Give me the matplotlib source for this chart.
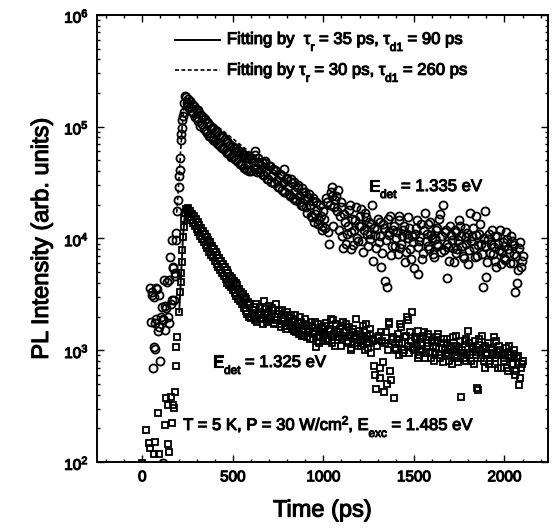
import matplotlib
matplotlib.use("Agg")
import matplotlib.pyplot as plt
import matplotlib.patheffects as pe
import matplotlib.transforms as mtrans
from matplotlib.ticker import MultipleLocator, LogLocator

plt.rcParams['font.family'] = ['Liberation Sans', 'DejaVu Sans']
plt.rcParams['mathtext.fontset'] = 'custom'
plt.rcParams['mathtext.rm'] = 'Liberation Sans'
plt.rcParams['mathtext.it'] = 'Liberation Sans:italic'
plt.rcParams['mathtext.bf'] = 'Liberation Sans:bold'
plt.rcParams['mathtext.default'] = 'regular'
plt.rcParams['lines.scale_dashes'] = False

# ---- E_det = 1.335 eV (open circles) ----
t_hi = [44, 50, 53, 56, 59, 62, 66, 69, 72, 75, 78, 81, 84, 90, 95, 99, 104, 108, 113, 115,
        117, 120, 125, 128, 132, 136, 140, 145, 150, 154, 158, 162, 164, 168, 172, 175, 178, 182, 184, 187,
        191, 195, 200, 204, 206, 209, 213, 216, 219, 222, 225, 228, 232, 236,
        240, 245, 250, 255, 260, 265, 270, 275, 280, 285, 290, 295, 300, 305, 310, 315, 320, 325, 330, 335,
        340, 345, 350, 355, 360, 365, 370, 375, 380, 385, 390, 395, 400, 405, 410, 415, 420, 425, 430, 435,
        440, 445, 450, 455, 460, 465, 470, 475, 480, 485, 490, 495, 500, 505, 510, 515, 520, 525, 530, 535,
        540, 545, 550, 555, 560, 565, 570, 575, 580, 585, 590, 595, 600,
        610, 620, 630, 640, 650, 660, 670, 680, 690, 700, 710, 720, 730, 740, 750, 760, 770, 780, 790, 800,
        810, 820, 830, 840, 850, 860, 870, 880, 890, 900, 910, 920, 930, 940, 950, 960, 970, 980, 990, 1000,
        1010, 1020, 1030, 1040, 1050, 1060, 1070, 1080, 1090, 1100, 1110, 1120, 1130, 1140, 1150, 1160,
        1170, 1180, 1190, 1200, 1210, 1220, 1230, 1240, 1250, 1260, 1270, 1280, 1290, 1300, 1310, 1320,
        1330, 1340, 1350, 1360, 1370, 1380, 1390, 1400, 1410, 1420, 1430, 1440, 1450, 1460, 1470, 1480,
        1490, 1500, 1510, 1520, 1530, 1540, 1550, 1560, 1570, 1580, 1590, 1600, 1610, 1620, 1630, 1640,
        1650, 1660, 1670, 1680, 1690, 1700, 1710, 1720, 1730, 1740, 1750, 1760, 1770, 1780, 1790, 1800,
        1810, 1820, 1830, 1840, 1850, 1860, 1870, 1880, 1890, 1900, 1910, 1920, 1930, 1940, 1950, 1960,
        1970, 1980, 1990, 2000, 2010, 2020, 2030, 2040, 2050, 2060, 2070, 2080, 2090, 2100]
pl_hi = [3580, 1800, 3300, 3100, 690, 1070, 3000, 1750, 1020, 3600, 1900, 3510, 1470, 3120, 1600, 800, 2000, 2450, 1900, 97,
         1870, 4270, 1510, 2500, 2370, 4100, 2000, 1750, 4270, 6880, 2600, 2820, 9700, 5600, 5400, 2800, 4900, 4570, 11100, 9600,
         17700, 22000, 29000, 36000, 41000, 52000, 76000, 86000, 97000, 115000, 125000, 136000, 162000, 188000,
         185000, 164000, 178000, 152000, 148000, 170000, 138000, 160000, 132000, 154000, 122000, 145000, 120000, 141000, 112000, 133000, 101000, 128000, 106000, 121000,
         96000, 116000, 91000, 111000, 88000, 107000, 82000, 101000, 80000, 98000, 76000, 95000, 74000, 92000, 72000, 89000, 70000, 85000, 67000, 82000,
         65000, 80000, 63000, 77000, 60000, 74000, 58000, 72000, 57000, 69000, 54000, 67000, 53000, 65000, 51000, 64000, 50000, 61000, 48000, 60000,
         46000, 59000, 45000, 57000, 43000, 56000, 42000, 54000, 41000, 52000, 40000, 51000, 40000,
         48000, 61000, 42000, 52000, 39000, 48000, 37000, 47000, 34000, 44000, 32000, 42000, 31000, 40000, 29000, 38000, 27000, 42000, 26000, 35000,
         25000, 34000, 23000, 32000, 22000, 30000, 21000, 28000, 19500, 26000, 17000, 25000, 16000, 23000, 14000, 21000, 13500, 20000, 13000, 17500,
         12500, 21000, 9000, 26000, 29000, 19000, 24000, 27000, 16000, 21000, 8200, 14000, 11000, 18000, 8000, 15000,
         12000, 19000, 9500, 16000, 13000, 7600, 17000, 11000, 14000, 9800, 20000, 12500, 8200, 15000, 10500, 5600,
         13500, 4200, 3700, 11500, 16000, 8500, 13000, 10000, 7200, 14500, 9000, 12000, 6100, 11000, 15500, 8000,
         10500, 5400, 12500, 4800, 9500, 13500, 7400, 17000, 11000, 8600, 14000, 10000, 6800, 12000, 9000, 15000,
         7500, 20000, 11500, 4400, 8400, 13000, 9600, 6200, 11500, 8000, 14500, 10500, 7000, 12500, 9000, 5900,
         17000, 10500, 8200, 16000, 7000, 11000, 9000, 3700, 17500, 4500, 9800, 7400, 12000, 8400, 6300, 10500,
         7800, 5900, 9300, 6700, 11500, 8000, 6000, 9500, 7200, 3300, 4000, 8200, 5500, 7000]
# in-between samples (t = 605, 615, ... 2095)
t_hi_mid = [605, 615, 625, 635, 645, 655, 665, 675, 685, 695, 705, 715, 725, 735, 745, 755, 765, 775, 785, 795,
            805, 815, 825, 835, 845, 855, 865, 875, 885, 895, 905, 915, 925, 935, 945, 955, 965, 975, 985, 995,
            1005, 1015, 1025, 1035, 1045, 1055, 1065, 1075, 1085, 1095, 1105, 1115, 1125, 1135, 1145, 1155,
            1165, 1175, 1185, 1195, 1205, 1215, 1225, 1235, 1245, 1255, 1265, 1275, 1285, 1295, 1305, 1315,
            1325, 1335, 1345, 1355, 1365, 1375, 1385, 1395, 1405, 1415, 1425, 1435, 1445, 1455, 1465, 1475,
            1485, 1495, 1505, 1515, 1525, 1535, 1545, 1555, 1565, 1575, 1585, 1595, 1605, 1615, 1625, 1635,
            1645, 1655, 1665, 1675, 1685, 1695, 1705, 1715, 1725, 1735, 1745, 1755, 1765, 1775, 1785, 1795,
            1805, 1815, 1825, 1835, 1845, 1855, 1865, 1875, 1885, 1895, 1905, 1915, 1925, 1935, 1945, 1955,
            1965, 1975, 1985, 1995, 2005, 2015, 2025, 2035, 2045, 2055, 2065, 2075, 2085, 2095]
pl_hi_mid = [52000, 43000, 56000, 39000, 47000, 42000, 37000, 49000, 40000, 34000,
             44000, 36000, 31000, 41000, 33000, 29000, 37000, 31000, 26000, 34000,
             29000, 24000, 31000, 26000, 22000, 29000, 24000, 20000, 26000, 22500,
             19000, 23500, 20000, 15500, 21500, 16500, 18000, 14500, 16000, 12000,
             15000, 23000, 11500, 20000, 24000, 13000, 22000, 17500, 12000, 19000,
             10500, 16500, 9000, 13000, 20000, 11500, 8800, 14500, 10000, 12800,
             18500, 9500, 12000, 15500, 8600, 11000, 13500, 6300, 10800, 12200,
             9200, 14000, 7400, 12500, 9600, 15000, 10800, 7100, 12000, 8600,
             11500, 16000, 8200, 10500, 13000, 7600, 10000, 12500, 6600, 9200,
             11000, 14500, 8400, 10200, 6500, 12000, 9400, 13500, 8000, 10800,
             7200, 9800, 12500, 8600, 16500, 10500, 7800, 12000, 9000, 6300,
             10800, 8200, 11800, 7400, 9600, 13000, 8600, 6700, 10200, 11200,
             7900, 9500, 12500, 6800, 10800, 8800, 13500, 7200, 10000, 8500,
             6100, 11000, 9000, 7200, 10500, 5600, 9000, 12000, 7600, 8600,
             6400, 9800, 7400, 10500, 6000, 8800, 7000, 5200, 9200, 6300]

# ---- E_det = 1.325 eV (open squares) ----
t_lo = [0, 22, 35, 40, 62, 72, 86, 90, 127, 132, 140, 143, 149, 158, 164, 169, 176, 182, 185, 187,
        191, 204, 209, 211, 214, 219, 221, 224, 228, 232, 236, 242,
        245, 250, 255, 260, 265, 270, 275, 280, 285, 290, 295, 300, 305, 310, 315, 320, 325, 330, 335,
        340, 345, 350, 355, 360, 365, 370, 375, 380, 385, 390, 395, 400, 405, 410, 415, 420, 425, 430, 435,
        440, 445, 450, 455, 460, 465, 470, 475, 480, 485, 490, 495, 500, 505, 510, 515, 520, 525, 530, 535,
        540, 545, 550, 555, 560, 565, 570, 575, 580, 585, 590, 595, 600,
        610, 620, 630, 640, 650, 660, 670, 680, 690, 700, 710, 720, 730, 740, 750, 760, 770, 780, 790, 800,
        810, 820, 830, 840, 850, 860, 870, 880, 890, 900, 910, 920, 930, 940, 950, 960, 970, 980, 990, 1000,
        1010, 1020, 1030, 1040, 1050, 1060, 1070, 1080, 1090, 1100, 1110, 1120, 1130, 1140, 1150, 1160,
        1170, 1180, 1190, 1200, 1210, 1220, 1230, 1240, 1250, 1260, 1270, 1280, 1290, 1300, 1310, 1320,
        1330, 1340, 1350, 1360, 1370, 1380, 1390, 1400, 1410, 1420, 1430, 1440, 1450, 1460, 1470, 1480,
        1490, 1500, 1510, 1520, 1530, 1540, 1550, 1560, 1570, 1580, 1590, 1600, 1610, 1620, 1630, 1640,
        1650, 1660, 1670, 1680, 1690, 1700, 1710, 1720, 1730, 1740, 1750, 1760, 1770, 1780, 1790, 1800,
        1810, 1820, 1830, 1840, 1850, 1860, 1870, 1880, 1890, 1900, 1910, 1920, 1930, 1940, 1950, 1960,
        1970, 1980, 1990, 2000, 2010, 2020, 2030, 2040, 2050, 2060, 2070, 2080, 2090, 2100]
pl_lo = [98, 193, 149, 133, 118, 152, 273, 118, 214, 370, 145, 323, 123, 384, 222, 323, 307, 427, 725, 1060,
         1320, 2200, 3320, 4080, 4930, 6160, 7900, 10400, 12600, 15000, 16800, 18300,
         18000, 16500, 18800, 15500, 17600, 14600, 16600, 13800, 15800, 12900, 14900, 12100, 14000, 11400, 13300, 10600, 12400, 9900, 11700,
         9300, 11000, 8700, 10300, 8200, 9700, 7600, 9200, 7100, 8600, 6800, 8000, 6300, 7500, 5900, 7100, 5600, 6700, 5200, 6300,
         4900, 5900, 4600, 5500, 4300, 5200, 4000, 4900, 3850, 4600, 3650, 4400, 3450, 4200, 3250, 4000, 3050, 3800, 2900, 3550,
         2750, 3350, 2600, 3150, 2400, 3000, 2250, 2850, 2100, 2700, 2000, 2600, 1950,
         2300, 1850, 2600, 2050, 2400, 1900, 2750, 2150, 1800, 2500, 2000, 2300, 1750, 2600, 2100, 1700, 2300, 1950, 1650, 2200,
         1800, 2050, 1550, 1900, 1450, 1750, 2000, 1350, 1650, 1900, 1300, 1550, 1800, 1250, 1500, 1070, 1700, 1350, 1550, 1200,
         1650, 1250, 1500, 1900, 1150, 1400, 1700, 1300, 1550, 1100, 1800, 1350, 1200, 1600, 1050, 1450,
         1250, 1900, 1100, 1400, 1200, 1650, 1000, 1350, 1150, 1550, 1250, 720, 450, 1300, 560, 1450,
         780, 1150, 500, 1700, 650, 1250, 370, 1000, 1400, 1150, 1600, 950, 1300, 2000, 1100, 1450,
         2200, 1000, 1250, 1500, 900, 1150, 1350, 850, 1100, 1400, 950, 1200, 800, 1050, 1300, 900,
         1150, 780, 1000, 1250, 880, 1100, 750, 1000, 1350, 850, 1050, 380, 950, 1200, 800, 1500,
         900, 1100, 750, 1000, 460, 1250, 850, 1050, 700, 950, 1150, 800, 1000, 1300, 750, 900,
         1100, 700, 950, 850, 1050, 650, 900, 750, 1000, 600, 850, 490, 700, 800]
t_lo_mid = t_hi_mid
pl_lo_mid = [2150, 1950, 2450, 1800, 2200, 2050, 1700, 2350, 1950, 2150,
             1850, 2400, 1700, 2000, 1850, 2250, 1600, 1900, 2050, 1550,
             1950, 1650, 1800, 1500, 2050, 1600, 1400, 1800, 1550, 1350,
             1700, 1450, 1250, 1650, 1400, 1800, 1300, 1150, 1450, 1600,
             1400, 1750, 1200, 1550, 1350, 1850, 1100, 1450, 1300, 1650,
             1250, 1450, 1700, 1150, 1350, 1000, 1550, 1300, 1150, 1500,
             1100, 1350, 1250, 1700, 1050, 1400, 950, 1200, 600, 1100,
             1350, 700, 1200, 420, 1450, 1000, 1800, 540, 1300, 1050,
             1250, 900, 1700, 1150, 1000, 1350, 1850, 950, 1200, 1050,
             1300, 1100, 850, 1250, 1000, 1450, 950, 1150, 1300, 850,
             1100, 950, 1200, 1400, 850, 1050, 1250, 950, 1150, 800,
             1050, 1300, 900, 1100, 780, 1200, 1000, 850, 1250, 950,
             1150, 800, 1050, 1200, 900, 440, 1000, 1350, 800, 1100,
             900, 750, 1050, 950, 850, 1200, 700, 1000, 900, 800,
             950, 700, 1100, 850, 750, 920, 650, 880, 560, 750]

# ---- fitted curves ----
fit_solid_t = [204, 215, 225, 235, 242, 260, 300, 350, 400, 450, 500, 550, 600, 650, 700, 800, 900,
               1000, 1200, 1400, 1600, 1800, 2000, 2100]
fit_solid_I = [2200, 5000, 10500, 16500, 18500, 16500, 12500, 9000, 6600, 4800, 3600, 2700, 2250, 2050,
               1900, 1700, 1550, 1420, 1250, 1120, 1000, 920, 840, 800]
fit_dash_t = [190, 200, 210, 220, 230, 240, 260, 300, 400, 500, 600, 700, 800, 900, 1000, 1100, 1200,
              1400, 1600, 1800, 2000, 2100]
fit_dash_I = [17000, 29000, 55000, 100000, 150000, 182000, 168000, 142000, 105000, 78000, 58000, 44000,
              34000, 26000, 20000, 16500, 14500, 12000, 10500, 9300, 8500, 8100]

fig = plt.figure(figsize=(5.56, 5.31), dpi=100)
ax = fig.add_axes([0.1745, 0.130, 0.811, 0.842])

ax.plot(fit_solid_t, fit_solid_I, color='black', lw=1.4, zorder=2)
ax.plot(fit_dash_t, fit_dash_I, color='black', lw=1.2, dashes=(2.8, 1.8), zorder=2)
ax.plot(t_hi + t_hi_mid, pl_hi + pl_hi_mid, 'o', ms=5.8, mfc='none', mec='black', mew=1.3, zorder=3)
ax.plot(t_lo + t_lo_mid, pl_lo + pl_lo_mid, 's', ms=5.0, mfc='none', mec='black', mew=1.3, zorder=3)

ax.set_yscale('log')
ax.set_xlim(-250, 2240)
ax.set_ylim(1e2, 1e6)
ax.xaxis.set_major_locator(MultipleLocator(500))
ax.xaxis.set_minor_locator(MultipleLocator(100))
ax.yaxis.set_major_locator(LogLocator(base=10, numticks=10))
ax.yaxis.set_minor_locator(LogLocator(base=10, subs=range(2, 10), numticks=20))
ax.tick_params(which='both', direction='in', top=True, right=True, width=1.0)
ax.tick_params(which='major', length=5, labelsize=11, pad=6)
ax.tick_params(which='minor', length=2.5)
for s in ax.spines.values():
    s.set_linewidth(1.4)

ax.set_xlabel('Time (ps)', fontsize=17, labelpad=11)
ax.set_ylabel('PL Intensity (arb. units)', fontsize=17, labelpad=8)

thick = [pe.withStroke(linewidth=0.8, foreground='black')]
renderer = fig.canvas.get_renderer()
MAIN, SUB = 12, 8.5


def rich_text(x, y, parts):
    # draw text pieces one after another; each piece may be lowered or raised (points)
    dx = 0.0
    for s, size, dy in parts:
        tr = mtrans.offset_copy(ax.transAxes, fig=fig, x=dx, y=dy * fig.dpi / 72.0, units='dots')
        t = ax.text(x, y, s, fontsize=size, transform=tr, va='baseline', ha='left')
        t.set_path_effects(thick)
        dx += t.get_window_extent(renderer).width


# hand-drawn legend
ax.plot([0.173, 0.273], [0.944, 0.944], color='black', lw=1.4, transform=ax.transAxes)
ax.plot([0.173, 0.273], [0.877, 0.877], color='black', lw=1.2, dashes=(2.8, 1.8), transform=ax.transAxes)
rich_text(0.288, 0.935, [('Fitting by  \u03c4', MAIN, 0), ('r', SUB, -5), (' = 35 ps, \u03c4', MAIN, 0),
                         ('d1', SUB, -5), (' = 90 ps', MAIN, 0)])
rich_text(0.288, 0.866, [('Fitting by \u03c4', MAIN, 0), ('r', SUB, -5), (' = 30 ps, \u03c4', MAIN, 0),
                         ('d1', SUB, -5), (' = 260 ps', MAIN, 0)])
rich_text(0.603, 0.606, [('E', MAIN, 0), ('det', SUB, -5), (' = 1.335 eV', MAIN, 0)])
rich_text(0.257, 0.2125, [('E', MAIN, 0), ('det', SUB, -5), (' = 1.325 eV', MAIN, 0)])
rich_text(0.191, 0.0716, [('T = 5 K, P = 30 W/cm', MAIN, 0), ('2', SUB, 4), (', E', MAIN, 0),
                          ('exc', SUB, -5), (' = 1.485 eV', MAIN, 0)])

# thicken the other labels a bit, like the scanned figure
for t in ax.get_xticklabels() + ax.get_yticklabels() + [ax.xaxis.label, ax.yaxis.label]:
    t.set_path_effects(thick)

fig.savefig('out.png', dpi=100)
